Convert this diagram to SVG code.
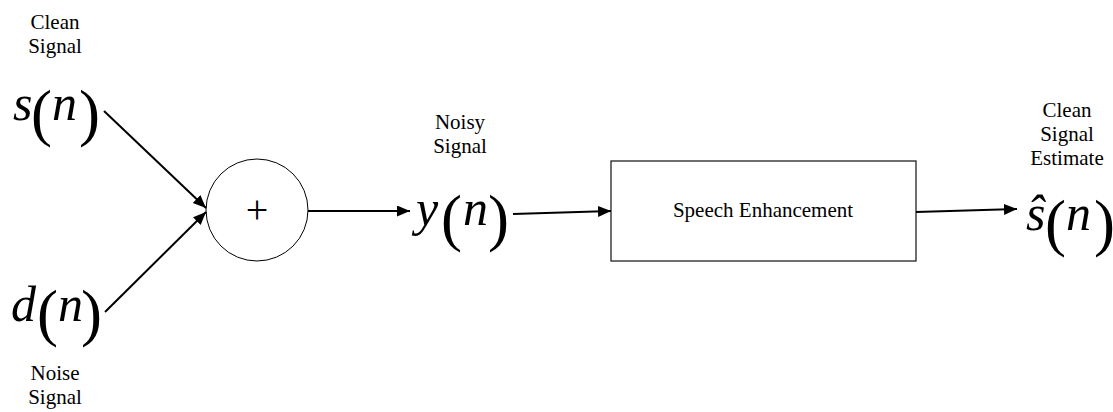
<svg xmlns="http://www.w3.org/2000/svg" width="1113" height="412" viewBox="0 0 1113 412">
<defs>
<marker id="ah" markerUnits="userSpaceOnUse" markerWidth="14" markerHeight="12" refX="13" refY="5.5" orient="auto">
<path d="M0,0 L13,5.5 L0,11 z" fill="#000"/>
</marker>
<style>
text, tspan { font-family: 'Liberation Serif', 'Times New Roman', Times, 'Noto Serif', 'DejaVu Serif', serif; }
.lbl { font-size: 21px; fill: #000; text-anchor: middle; }
.mi { font-style: italic; font-size: 50px; fill: #000; }
.mp { font-style: normal; font-size: 63px; fill: #000; }
.conn { stroke: #000; stroke-width: 2; fill: none; marker-end: url(#ah); }
</style>
</defs>
<rect width="1113" height="412" fill="#fff"/>
<g id="clean-signal">
<text class="lbl" x="55" y="29">Clean</text>
<text class="lbl" x="55" y="53">Signal</text>
<text><tspan class="mi" x="13" y="120">s</tspan><tspan class="mp" x="31" y="134">(</tspan><tspan class="mi" x="52" y="120">n</tspan><tspan class="mp" x="79" y="134">)</tspan></text>
</g>
<g id="noise-signal">
<text class="lbl" x="55" y="380">Noise</text>
<text class="lbl" x="55" y="404">Signal</text>
<text><tspan class="mi" x="11" y="321">d</tspan><tspan class="mp" x="37" y="334">(</tspan><tspan class="mi" x="58" y="321">n</tspan><tspan class="mp" x="81" y="334">)</tspan></text>
</g>
<g id="adder">
<circle cx="257" cy="210" r="51" fill="none" stroke="#000" stroke-width="1"/>
<text x="257" y="223" font-size="40" text-anchor="middle" fill="#000">+</text>
</g>
<g id="noisy-signal">
<text class="lbl" x="460" y="129">Noisy</text>
<text class="lbl" x="460" y="153">Signal</text>
<text><tspan class="mi" x="416" y="225">y</tspan><tspan class="mp" x="441" y="239">(</tspan><tspan class="mi" x="463" y="225">n</tspan><tspan class="mp" x="488" y="239">)</tspan></text>
</g>
<g id="speech-enhancement">
<rect x="611" y="161" width="305" height="100" fill="none" stroke="#222" stroke-width="1.3"/>
<text class="lbl" x="763" y="217">Speech Enhancement</text>
</g>
<g id="clean-estimate">
<text class="lbl" x="1067" y="117">Clean</text>
<text class="lbl" x="1067" y="141">Signal</text>
<text class="lbl" x="1067" y="165">Estimate</text>
<text><tspan class="mi" x="1026" y="230">ŝ</tspan><tspan class="mp" x="1045" y="244">(</tspan><tspan class="mi" x="1066" y="230">n</tspan><tspan class="mp" x="1094" y="244">)</tspan></text>
</g>
<g id="connectors">
<line class="conn" x1="104" y1="111" x2="206" y2="208"/>
<line class="conn" x1="105" y1="312" x2="206" y2="212"/>
<line class="conn" x1="308" y1="211" x2="410" y2="211"/>
<line class="conn" x1="513" y1="214" x2="611" y2="211"/>
<line class="conn" x1="916" y1="212" x2="1017" y2="209"/>
</g>
</svg>
